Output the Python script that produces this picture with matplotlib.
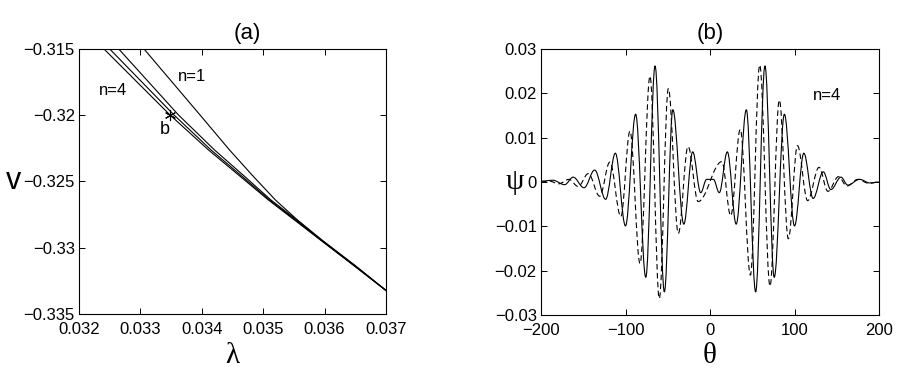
import numpy as np
import matplotlib
matplotlib.use('Agg')
import matplotlib.pyplot as plt
from matplotlib.path import Path
from matplotlib.patches import PathPatch

plt.rcParams['font.family'] = ['Liberation Sans', 'DejaVu Sans']

# (a) branches v(lambda), n = 4, 3, 2, 1
v_br = [-0.315, -0.31998, -0.32262, -0.32451, -0.32640, -0.32791, -0.32942, -0.33136, -0.33336]
lam_n4 = [0.032407, 0.033482, 0.034109, 0.034598, 0.035086, 0.035510, 0.035933, 0.036479, 0.037037]
lam_n3 = [0.032500, 0.033547, 0.034150, 0.034630, 0.035103, 0.035526, 0.035941, 0.036487, 0.037037]
lam_n2 = [0.032647, 0.033620, 0.034207, 0.034671, 0.035127, 0.035550, 0.035950, 0.036495, 0.037037]
v_n1 = [-0.315, -0.31749, -0.31998, -0.32262, -0.32451, -0.32640, -0.32791, -0.32942, -0.33136, -0.33336]
lam_n1 = [0.033059, 0.033515, 0.033971, 0.034451, 0.034818, 0.035200, 0.035559, 0.035958, 0.036503, 0.037037]
lam_b, v_b = 0.033487, -0.31998

# (b) extrema of psi(theta), solid and dashed
th_solid = [-200, -186, -172, -162, -149, -136.5, -123.5, -112, -100, -88, -76, -65,
            -54, -44, -31, -20.5, -11, -4, 4, 11, 20.5, 31, 43, 54, 65, 76, 88,
            100, 111, 122, 134, 143, 155, 163, 177, 189, 200]
psi_solid = [0.0002, 0.0004, -0.0006, 0.0011, -0.0013, 0.0027, -0.0039, 0.0065, -0.0099,
             0.0153, -0.0215, 0.0262, -0.0248, 0.0163, -0.0095, 0.0068, -0.0024, 0.0006,
             0.0006, -0.0024, 0.0068, -0.0095, 0.0163, -0.0248, 0.0262, -0.0215, 0.0153,
             -0.0099, 0.0065, -0.0037, 0.0023, -0.0017, 0.0011, -0.0007, 0.0006, -0.0002, 0.0]
th_dash = [-200, -190, -179, -167, -156, -144, -130.5, -118.5, -105.5, -94.7, -82.8, -71,
           -60, -49.3, -37.5, -26, -14, 14, 24.5, 35.8, 47.8, 58.8, 71, 82, 92.7, 103.5,
           115.5, 129, 139.5, 152, 162, 175, 188, 200]
psi_dash = [0.0, 0.0002, -0.0004, 0.0006, -0.0010, 0.0019, -0.0032, 0.0045, -0.0078, 0.0115,
            -0.0184, 0.0239, -0.0263, 0.0211, -0.0116, 0.0080, -0.0044, 0.0046, -0.0076,
            0.0119, -0.0210, 0.0264, -0.0235, 0.0185, -0.0128, 0.0082, -0.0042, 0.0033,
            -0.0021, 0.0012, -0.0009, 0.0006, -0.0003, 0.0]


def smooth_path(xs, ys):
    """Bezier-Pfad durch die Extrema (waagrechte Tangenten)"""
    verts = [(xs[0], ys[0])]
    codes = [Path.MOVETO]
    for i in range(1, len(xs)):
        dx = xs[i] - xs[i - 1]
        verts += [(xs[i - 1] + 0.364 * dx, ys[i - 1]), (xs[i] - 0.364 * dx, ys[i]), (xs[i], ys[i])]
        codes += [Path.CURVE4] * 3
    return Path(verts, codes)


def style_axes(ax):
    ax.tick_params(direction='in', top=True, right=True, length=4, width=0.7,
                   labelsize=12)
    ax.tick_params(axis='x', pad=6)
    ax.tick_params(axis='y', pad=3)
    for s in ax.spines.values():
        s.set_linewidth(0.8)


fig = plt.figure(figsize=(9, 3.76), dpi=100)
ax1 = fig.add_axes([0.0878, 0.1649, 0.3411, 0.7048])
ax2 = fig.add_axes([0.6011, 0.1622, 0.3756, 0.7074])

for lam in [lam_n4, lam_n3, lam_n2]:
    ax1.plot(lam, v_br, color='k', lw=0.8)
ax1.plot(lam_n1, v_n1, color='k', lw=0.8)
ax1.plot(lam_b, v_b, marker=(6, 2, 0), color='k', ms=8, mew=0.8, ls='none')
ax1.text(0.03384, -0.31709, 'n=1', fontsize=12, ha='center', va='center')
ax1.text(0.03256, -0.3181, 'n=4', fontsize=12, ha='center', va='center')
ax1.text(0.03339, -0.32106, 'b', fontsize=13, ha='center', va='center')
ax1.set_xlim(0.032, 0.037)
ax1.set_ylim(-0.335, -0.315)
ax1.set_xticks([0.032, 0.033, 0.034, 0.035, 0.036, 0.037])
ax1.set_xticklabels(['0.032', '0.033', '0.034', '0.035', '0.036', '0.037'])
ax1.set_yticks([-0.335, -0.33, -0.325, -0.32, -0.315])
ax1.set_yticklabels(['\u22120.335', '\u22120.33', '\u22120.325', '\u22120.32', '\u22120.315'])
style_axes(ax1)
ax1.set_title('(a)', fontsize=16, x=0.547, pad=7)
ax1.set_xlabel('\u03bb', fontsize=21, family=['Liberation Serif', 'DejaVu Serif'])
ax1.xaxis.set_label_coords(0.5, -0.16)
ax1.xaxis.label.set_va('center')
ax1.set_ylabel('v', fontsize=22, rotation=0)
ax1.yaxis.set_label_coords(-0.215, 0.5)
ax1.yaxis.label.set_va('center')

ax2.add_patch(PathPatch(smooth_path(th_solid, psi_solid), fill=False, ec='k', lw=0.8))
ax2.add_patch(PathPatch(smooth_path(th_dash, psi_dash), fill=False, ec='k', lw=0.8,
                        ls=(0, (5, 3))))
ax2.text(139, 0.0196, 'n=4', fontsize=12, ha='center', va='center')
ax2.set_xlim(-200, 200)
ax2.set_ylim(-0.03, 0.03)
ax2.set_xticks([-200, -100, 0, 100, 200])
ax2.set_yticks([-0.03, -0.02, -0.01, 0, 0.01, 0.02, 0.03])
ax2.set_yticklabels(['\u22120.03', '\u22120.02', '\u22120.01', '0', '0.01', '0.02', '0.03'])
style_axes(ax2)
ax2.set_title('(b)', fontsize=16, pad=7)
ax2.set_xlabel('\u03b8', fontsize=21, family=['Liberation Serif', 'DejaVu Serif'])
ax2.xaxis.set_label_coords(0.5, -0.155)
ax2.xaxis.label.set_va('center')
ax2.set_ylabel('\u03c8', fontsize=21, rotation=0, family=['Liberation Serif', 'DejaVu Serif'])
ax2.yaxis.set_label_coords(-0.077, 0.5)
ax2.yaxis.label.set_va('center')

fig.savefig('out.png', dpi=100)
